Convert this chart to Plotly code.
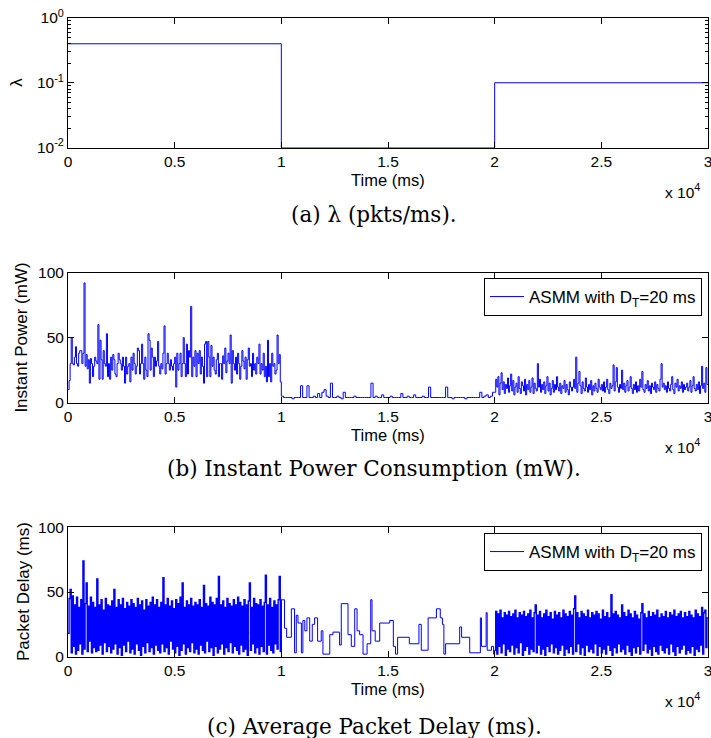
import numpy as np
import plotly.graph_objects as go

# ---------------- data ----------------
# (a) arrival rate lambda (pkts/ms), piecewise constant
lam_times = [0, 10000, 20000, 30000]
lam_values = [0.4, 0.01, 0.1, 0.1]

# (b) instant power (mW); segment 1: 0-10000 ms (50 ms steps)
power_seg1 = [
    10, 17, 30, 50, 30, 29, 35, 43, 30, 28, 38, 40, 40, 30, 38, 92, 28, 37, 26, 33,
    15, 34, 30, 20, 28, 35, 32, 30, 60, 18, 48, 33, 18, 40, 30, 28, 53, 20, 30, 18,
    35, 25, 37, 33, 22, 20, 30, 38, 33, 30, 25, 35, 28, 15, 35, 22, 28, 30, 16, 35,
    25, 38, 30, 22, 28, 42, 40, 22, 30, 45, 30, 18, 35, 25, 20, 53, 48, 25, 42, 35,
    20, 35, 28, 32, 47, 28, 22, 30, 26, 38, 59, 22, 30, 38, 30, 25, 33, 28, 25, 30,
    35, 12, 38, 25, 30, 38, 20, 30, 50, 30, 20, 45, 22, 40, 35, 74, 20, 35, 28, 40,
    20, 38, 30, 40, 22, 35, 28, 15, 45, 47, 20, 47, 35, 20, 44, 28, 35, 25, 22, 33,
    38, 20, 30, 30, 18, 36, 30, 42, 23, 32, 38, 30, 52, 15, 40, 30, 25, 35, 22, 38,
    30, 18, 28, 40, 32, 26, 35, 18, 33, 42, 28, 30, 20, 38, 25, 30, 22, 35, 30, 45,
    22, 30, 25, 38, 20, 28, 16, 48, 20, 30, 16, 38, 28, 30, 22, 25, 52, 30, 37, 16,
]
# segment 2: 10000-20000 ms (100 ms steps)
power_seg2 = [
    5, 4, 4, 4, 4, 3, 4, 4, 4, 13, 4, 4, 13, 4, 4, 5, 4, 7, 4, 8,
    10, 5, 4, 15, 4, 4, 5, 4, 3, 8, 4, 4, 4, 4, 5, 4, 4, 4, 4, 4,
    4, 4, 15, 4, 5, 4, 4, 6, 4, 4, 4, 5, 4, 4, 4, 4, 7, 4, 4, 5,
    4, 4, 6, 4, 4, 4, 5, 4, 4, 12, 4, 4, 4, 4, 4, 4, 4, 12, 4, 4,
    3, 4, 4, 4, 4, 4, 3, 4, 4, 4, 4, 4, 4, 8, 4, 5, 6, 4, 5, 8,
]
# segment 3: 20000-30000 ms (50 ms steps)
power_seg3 = [
    8, 18, 12, 20, 6, 15, 23, 10, 16, 7, 14, 11, 19, 8, 13, 22, 9, 17, 6, 12,
    15, 8, 20, 11, 7, 16, 13, 9, 18, 6, 14, 10, 17, 8, 12, 19, 7, 15, 11, 9,
    30, 12, 18, 8, 14, 10, 16, 7, 13, 20, 9, 15, 6, 11, 17, 8, 14, 10, 20, 12,
    9, 15, 7, 13, 11, 17, 8, 14, 10, 6, 16, 12, 9, 12, 18, 11, 35, 8, 15, 24,
    13, 7, 16, 11, 9, 19, 12, 8, 14, 10, 17, 6, 13, 9, 15, 11, 8, 18, 12, 10,
    14, 9, 16, 8, 12, 18, 10, 7, 15, 11, 13, 29, 9, 16, 27, 12, 8, 14, 11, 25,
    10, 15, 8, 13, 17, 9, 12, 20, 11, 7, 14, 10, 16, 8, 13, 9, 18, 12, 24, 10,
    8, 14, 11, 17, 9, 13, 7, 15, 12, 10, 16, 8, 14, 11, 9, 18, 30, 12, 15, 10,
    13, 8, 16, 11, 9, 14, 20, 10, 7, 15, 12, 18, 9, 13, 11, 16, 8, 14, 10, 12,
    15, 9, 12, 17, 8, 13, 20, 11, 9, 14, 10, 16, 7, 13, 28, 11, 15, 8, 27, 14,
]

# (c) packet delay (ms); segment 1: 0-10000 ms (50 ms steps)
delay_seg1 = [
    18, 45, 52, 3, 47, 8, 40, 2, 46, 5, 38, 10, 44, 2, 74, 6, 41, 57, 4, 39,
    12, 46, 3, 42, 7, 38, 4, 60, 5, 40, 9, 44, 2, 36, 11, 45, 4, 40, 8, 39,
    3, 43, 6, 52, 10, 38, 2, 44, 7, 40, 1, 45, 9, 37, 4, 42, 12, 39, 3, 44,
    6, 41, 2, 38, 10, 45, 5, 40, 1, 43, 8, 36, 3, 44, 11, 39, 4, 42, 7, 46,
    2, 40, 9, 44, 5, 38, 3, 42, 10, 61, 4, 40, 7, 45, 2, 39, 12, 43, 6, 37,
    3, 44, 8, 41, 1, 46, 5, 57, 10, 38, 2, 43, 7, 40, 4, 45, 11, 39, 3, 42,
    6, 40, 2, 44, 9, 38, 5, 55, 3, 41, 12, 39, 4, 46, 7, 42, 1, 40, 8, 45,
    3, 62, 6, 40, 10, 43, 2, 38, 7, 45, 4, 41, 11, 39, 3, 44, 8, 40, 5, 46,
    2, 42, 9, 39, 4, 44, 6, 40, 1, 43, 57, 5, 38, 10, 45, 3, 41, 7, 40, 2,
    44, 8, 39, 4, 42, 63, 2, 40, 9, 45, 5, 38, 3, 43, 10, 40, 6, 44, 62, 4,
]
# segment 2: 10000-20000 ms, sparse steps (time, value)
delay_seg2_times = [
    10000, 10150, 10250, 10470, 10620, 10700, 10780, 10940, 11010, 11100,
    11200, 11330, 11450, 11560, 11700, 11870, 11950, 12270, 12420, 12730,
    12810, 13125, 13280, 13440, 13550, 13670, 13830, 14020, 14190, 14250,
    14400, 14610, 15080, 15250, 15350, 15450, 16000, 16450, 16560, 16880,
    17270, 17450, 17550, 17620, 17700, 18360, 18450, 18830, 19330, 19380,
    19600, 19650, 19850, 19950,
]
delay_seg2_values = [
    44, 22, 15, 37, 3, 32, 26, 3, 28, 20,
    30, 12, 25, 30, 12, 20, 2, 17, 19, 9,
    41, 17, 8, 37, 20, 17, 2, 10, 44, 20,
    12, 26, 28, 8, 2, 15, 10, 25, 5, 30,
    37, 30, 25, 2, 10, 23, 15, 3, 30, 8,
    34, 5, 8, 2,
]
# segment 3: 20000-30000 ms (50 ms steps)
delay_seg3 = [
    5, 35, 2, 33, 8, 36, 3, 30, 10, 34, 1, 32, 6, 35, 4, 31, 9, 33, 2, 36,
    7, 30, 3, 34, 11, 32, 1, 35, 5, 31, 8, 33, 2, 36, 6, 30, 4, 34, 40, 3,
    32, 9, 35, 2, 30, 6, 33, 1, 36, 8, 31, 4, 34, 10, 29, 3, 35, 7, 32, 2,
    34, 5, 30, 9, 36, 1, 33, 6, 31, 3, 35, 8, 32, 2, 37, 47, 4, 34, 10, 30,
    2, 35, 7, 33, 1, 31, 9, 36, 4, 30, 6, 34, 3, 32, 10, 35, 1, 33, 8, 29,
    3, 36, 6, 31, 2, 34, 9, 30, 5, 48, 1, 33, 7, 35, 3, 32, 10, 30, 4, 40,
    6, 34, 2, 31, 9, 36, 4, 33, 1, 30, 7, 35, 3, 32, 8, 29, 2, 34, 41, 5,
    33, 10, 30, 3, 35, 6, 31, 1, 34, 8, 32, 4, 36, 2, 30, 9, 33, 5, 31, 3,
    35, 7, 30, 2, 34, 10, 32, 4, 36, 1, 31, 8, 33, 3, 35, 6, 30, 9, 34, 2,
    31, 5, 35, 3, 32, 8, 30, 1, 36, 6, 33, 4, 31, 9, 38, 2, 34, 36, 7, 30,
]

x_tick_vals = [0, 5000, 10000, 15000, 20000, 25000, 30000]
x_tick_text = ["0", "0.5", "1", "1.5", "2", "2.5", "3"]
y_lin_ticks = [0, 50, 100]
y_log_ticks = [0.01, 0.1, 1]
y_log_text = ["10<sup>-2</sup>", "10<sup>-1</sup>", "10<sup>0</sup>"]
y_log_minor = [0.02, 0.03, 0.04, 0.05, 0.06, 0.07, 0.08, 0.09,
               0.2, 0.3, 0.4, 0.5, 0.6, 0.7, 0.8, 0.9]
legend_label = "ASMM with D<sub>T</sub>=20 ms"
captions = ["(a) λ (pkts/ms).", "(b) Instant Power Consumption (mW).", "(c) Average Packet Delay (ms)."]
y_titles = ["λ", "Instant Power (mW)", "Packet Delay (ms)"]


def seg_times(start, end, n):
    return list(np.linspace(start, end, n, endpoint=False))


power_t = seg_times(0, 10000, len(power_seg1)) + seg_times(10000, 20000, len(power_seg2)) + seg_times(20000, 30000, len(power_seg3))
power_v = power_seg1 + power_seg2 + power_seg3
power_t.append(30000)
power_v.append(power_seg3[-1])

d1_t = seg_times(0, 10000, len(delay_seg1)) + [delay_seg2_times[0]]
d1_v = delay_seg1 + [delay_seg2_values[0]]
d2_t = delay_seg2_times + [20000]
d2_v = delay_seg2_values + [delay_seg3[0]]
d3_t = seg_times(20000, 30000, len(delay_seg3)) + [30000]
d3_v = delay_seg3 + [delay_seg3[-1]]

# ---------------- figure ----------------
W, H = 711, 738
BLUE = "#0000ff"
SANS = "Liberation Sans, Arial, sans-serif"
SERIF = "DejaVu Serif, serif"


def px(x):
    return x / W


def py(y):
    return 1 - y / H


fig = go.Figure()
fig.add_trace(go.Scatter(x=lam_times, y=lam_values, mode="lines", line=dict(color=BLUE, width=1, shape="hv"),
                         xaxis="x", yaxis="y", showlegend=False))
fig.add_trace(go.Scatter(x=power_t, y=power_v, mode="lines", line=dict(color=BLUE, width=1, shape="hv"),
                         xaxis="x2", yaxis="y2", name=legend_label, legend="legend"))
fig.add_trace(go.Scatter(x=d1_t, y=d1_v, mode="lines", line=dict(color=BLUE, width=1.4, shape="hv"),
                         xaxis="x3", yaxis="y3", name=legend_label, legend="legend2", showlegend=False))
fig.add_trace(go.Scatter(x=d2_t, y=d2_v, mode="lines", line=dict(color=BLUE, width=1, shape="hv"),
                         xaxis="x3", yaxis="y3", name=legend_label, legend="legend2", showlegend=True))
fig.add_trace(go.Scatter(x=d3_t, y=d3_v, mode="lines", line=dict(color=BLUE, width=1.4, shape="hv"),
                         xaxis="x3", yaxis="y3", name=legend_label, legend="legend2", showlegend=False))

AX_L, AX_R = 68, 708
panels = [(18, 147.5), (272.5, 402.7), (527.3, 656.7)]

common_axis = dict(showline=True, linecolor="black", linewidth=1, mirror="ticks", ticks="inside",
                   ticklen=6, tickwidth=1, tickcolor="black", showgrid=False, zeroline=False,
                   automargin=False, ticklabeloverflow="allow",
                   tickfont=dict(family=SANS, size=15.5, color="black"))

layout = dict(template="none", width=W, height=H, autosize=False, margin=dict(l=0, r=0, t=0, b=0, autoexpand=False),
              paper_bgcolor="white", plot_bgcolor="white", showlegend=True,
              font=dict(family=SANS, size=15, color="black"))

for i, (top, bot) in enumerate(panels):
    sfx = "" if i == 0 else str(i + 1)
    dom_y = [py(bot), py(top)]
    layout["xaxis" + sfx] = dict(common_axis, domain=[px(AX_L), px(AX_R)], anchor="y" + sfx, range=[0, 30000],
                                 tickmode="array", tickvals=x_tick_vals, ticktext=x_tick_text)
    if i == 0:
        layout["yaxis"] = dict(common_axis, domain=dom_y, anchor="x", type="log", range=[-2, 0],
                               tickmode="array", tickvals=y_log_ticks, ticktext=y_log_text,
                               minor=dict(ticks="inside", ticklen=3, tickcolor="black", tickwidth=1,
                                          tickmode="array", tickvals=y_log_minor, showgrid=False))
    else:
        layout["yaxis" + sfx] = dict(common_axis, domain=dom_y, anchor="x" + sfx, range=[0, 100],
                                     tickmode="array", tickvals=y_lin_ticks)

leg = dict(xanchor="right", x=px(702), yanchor="top", bordercolor="black", borderwidth=1, bgcolor="white",
           font=dict(family=SANS, size=17, color="black"), itemwidth=34, tracegroupgap=0)
layout["legend"] = dict(leg, y=py(278))
layout["legend2"] = dict(leg, y=py(533))

annotations = []
time_y = [180, 435, 689]
x104_y = [191, 446, 700]
cap_y = [214, 469, 726]
ytit_x = [17, 22, 23]
for i, (top, bot) in enumerate(panels):
    annotations.append(dict(text="Time (ms)", x=px(388), y=py(time_y[i]), xref="paper", yref="paper",
                            xanchor="center", yanchor="middle", showarrow=False,
                            font=dict(family=SANS, size=16.5, color="black")))
    annotations.append(dict(text="x 10<sup>4</sup>", x=px(702), y=py(x104_y[i]), xref="paper", yref="paper",
                            xanchor="right", yanchor="middle", showarrow=False,
                            font=dict(family=SANS, size=15.5, color="black")))
    annotations.append(dict(text=captions[i], x=px(374), y=py(cap_y[i]), xref="paper", yref="paper",
                            xanchor="center", yanchor="middle", showarrow=False,
                            font=dict(family=SERIF, size=21.5, color="black")))
    annotations.append(dict(text=y_titles[i], x=px(ytit_x[i]), y=py((top + bot) / 2), xref="paper",
                            yref="paper", xanchor="center", yanchor="middle", textangle=-90, showarrow=False,
                            font=dict(family=SANS, size=17, color="black")))
layout["annotations"] = annotations

fig.update_layout(**layout)
# Remove the browser's default 8 px body margin so the figure fills the window exactly.
fig.write_html("out.html", config={"displayModeBar": False},
               post_script="document.body.style.margin='0';document.body.style.overflow='hidden';")
